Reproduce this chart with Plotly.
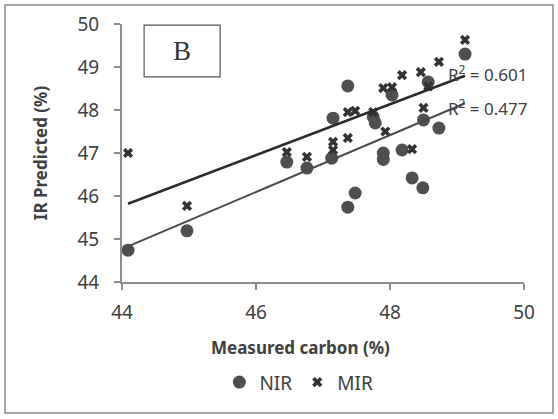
import numpy as np
import plotly.graph_objects as go

# Measured carbon (%) vs IR-predicted carbon (%)
nir_measured = [44.09, 44.97, 46.46, 46.76, 47.13, 47.15, 47.37, 47.75, 47.78, 47.90,
                47.90, 48.03, 48.18, 48.33, 48.49, 47.48, 47.37, 48.50, 48.73, 48.57, 49.12]
nir_predicted = [44.74, 45.19, 46.79, 46.65, 46.88, 47.81, 48.56, 47.84, 47.70, 47.00,
                 46.85, 48.35, 47.07, 46.42, 46.19, 46.07, 45.74, 47.77, 47.58, 48.65, 49.30]

mir_measured = [44.09, 44.97, 46.46, 46.76, 47.15, 47.15, 47.37, 47.37, 47.48, 47.75,
                47.93, 47.90, 48.03, 48.18, 48.46, 48.73, 49.12, 48.50, 48.33, 48.57]
mir_predicted = [47.00, 45.77, 47.02, 46.91, 47.26, 47.07, 47.35, 47.95, 47.98, 47.95,
                 47.50, 48.51, 48.53, 48.81, 48.88, 49.12, 49.63, 48.05, 47.09, 48.55]

r2_labels = {"MIR": "R<sup>2</sup> = 0.601", "NIR": "R<sup>2</sup> = 0.477"}
x_ticks = [44, 46, 48, 50]
y_ticks = [44, 45, 46, 47, 48, 49, 50]
x_title = "Measured carbon (%)"
y_title = "IR Predicted (%)"

FONT = "Noto Sans"
TEXT = "#404040"


def trend(xs, ys):
    xs = np.asarray(xs)
    slope, intercept = np.polyfit(xs, np.asarray(ys), 1)
    x_end = np.array([xs.min(), xs.max()])
    return x_end, slope * x_end + intercept


fig = go.Figure()

fig.add_trace(go.Scatter(
    x=nir_measured, y=nir_predicted, mode="markers", name="NIR",
    marker=dict(symbol="circle", size=13, color="#4f4f4f"),
))
fig.add_trace(go.Scatter(
    x=mir_measured, y=mir_predicted, mode="markers", name="MIR",
    marker=dict(symbol="x", size=9, color="#333333", line=dict(width=0)),
))

mx, my = trend(mir_measured, mir_predicted)
fig.add_trace(go.Scatter(x=mx, y=my, mode="lines", showlegend=False,
                         line=dict(color="#2b2b2b", width=2.5), hoverinfo="skip"))
nx, ny = trend(nir_measured, nir_predicted)
fig.add_trace(go.Scatter(x=nx, y=ny, mode="lines", showlegend=False,
                         line=dict(color="#4a4a4a", width=2), hoverinfo="skip"))

# R² labels placed at the right end of each trend line
fig.add_annotation(x=mx[1], y=my[1], xref="x", yref="y", text=r2_labels["MIR"],
                   showarrow=False, xanchor="left", yanchor="bottom", xshift=-19, yshift=-12,
                   font=dict(family=FONT, size=17, color=TEXT))
fig.add_annotation(x=nx[1], y=ny[1], xref="x", yref="y", text=r2_labels["NIR"],
                   showarrow=False, xanchor="left", yanchor="bottom", xshift=-19, yshift=-19,
                   font=dict(family=FONT, size=17, color=TEXT))

# Panel label box
fig.add_shape(type="rect", xref="paper", yref="paper",
              x0=0.055, x1=0.244, y0=0.795, y1=0.996,
              line=dict(color="#555555", width=1.2), fillcolor="white")
fig.add_annotation(x=0.15, y=0.895, xref="paper", yref="paper", text="B",
                   xanchor="center", yanchor="middle", showarrow=False,
                   font=dict(family="Liberation Serif", size=27, color="#333333"))

# X-axis title, centred under the chart area
fig.add_annotation(x=0.443, y=-0.252, xref="paper", yref="paper",
                   text=f"<b>{x_title}</b>", xanchor="center", yanchor="middle",
                   showarrow=False, font=dict(family=FONT, size=17, color=TEXT))

# Outer chart border
fig.add_shape(type="rect", xref="paper", yref="paper",
              x0=-0.291, x1=1.072, y0=-0.508, y1=1.074,
              line=dict(color="#8a8a8a", width=1.5))

axis_common = dict(
    showgrid=False, zeroline=False, showline=True, linecolor="#8c8c8c", linewidth=2,
    ticks="outside", ticklen=6, tickwidth=2, tickcolor="#8c8c8c",
    tickfont=dict(family=FONT, size=19, color=TEXT),
)

fig.update_xaxes(range=[44, 50], tickvals=x_ticks, ticklabelstandoff=6, **axis_common)
fig.update_yaxes(range=[44, 50], tickvals=y_ticks, ticklabelstandoff=11,
                 title=dict(text=f"<b>{y_title}</b>", standoff=26,
                            font=dict(family=FONT, size=17, color=TEXT)),
                 **axis_common)

fig.update_layout(
    width=558, height=419,
    margin=dict(l=122, r=34, t=24, b=137),
    paper_bgcolor="white", plot_bgcolor="white",
    showlegend=True,
    legend=dict(orientation="h", x=0.44, xanchor="center", y=-0.315, yanchor="top",
                font=dict(family=FONT, size=19, color=TEXT), itemwidth=30,
                tracegroupgap=0),
)

fig.write_html("out.html")
